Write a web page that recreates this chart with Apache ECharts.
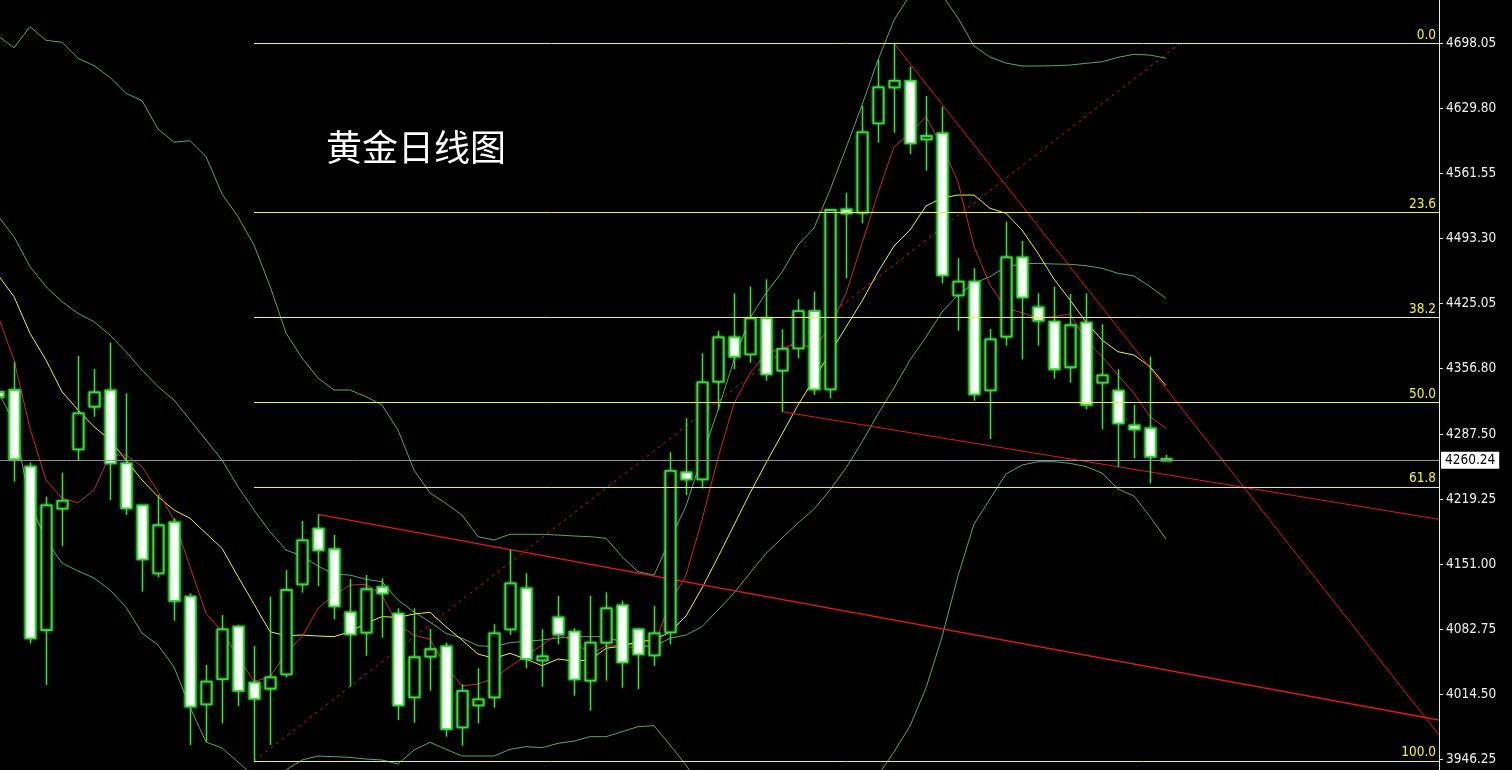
<!DOCTYPE html>
<html><head><meta charset="utf-8">
<script src="https://cdn.jsdelivr.net/npm/echarts@6/dist/echarts.min.js"></script>
<style>html,body{margin:0;padding:0;background:#000;}#c{width:1512px;height:770px;}</style>
</head><body><div id="c"></div>
<script>
// candle index k = 0..73 (k=0 is the partly hidden bar at the left edge)
const opens=[4331.9,4334.0,4253.5,4082.0,4209.4,4271.7,4316.5,4333.7,4257.0,4212.9,4141.5,4195.1,4117.0,4004.0,4030.5,4085.5,4026.7,4020.4,4035.5,4130.0,4188.4,4166.8,4100.6,4079.2,4126.9,4099.1,4011.3,4054.0,4064.9,3979.8,4002.9,4011.3,4082.7,4125.8,4050.2,4095.3,4080.2,4028.8,4068.7,4107.9,4082.7,4055.4,4079.6,4247.6,4240.2,4342.7,4389.3,4371.5,4409.3,4354.3,4377.8,4416.9,4334.7,4523.7,4520.2,4614.0,4651.8,4658.5,4597.2,4603.5,4433.4,4447.7,4333.7,4390.0,4473.3,4420.8,4405.7,4357.9,4404.7,4341.7,4333.3,4296.9,4293.8,4261.5];
const closes=[4326.7,4261.3,4073.3,4212.9,4217.5,4309.5,4331.6,4257.0,4209.8,4156.2,4192.0,4112.5,4001.5,4027.7,4082.7,4018.0,4009.6,4032.3,4124.0,4176.2,4165.7,4106.9,4077.5,4124.8,4120.5,4002.9,4053.4,4061.8,3978.0,4018.0,4009.2,4078.5,4131.0,4051.6,4054.4,4077.5,4030.2,4068.7,4104.8,4048.1,4056.5,4078.5,4249.0,4240.2,4342.1,4389.3,4369.0,4409.3,4350.5,4377.1,4416.9,4334.7,4523.0,4519.5,4604.6,4651.8,4658.5,4593.0,4600.7,4454.4,4447.7,4329.5,4387.2,4473.3,4431.3,4406.8,4355.8,4402.0,4318.3,4349.4,4299.0,4292.7,4264.0,4260.24];
const highs=[4339.0,4363.7,4257.7,4222.0,4247.2,4369.7,4356.1,4383.7,4330.5,4213.3,4223.8,4199.3,4120.5,4045.3,4097.8,4087.3,4065.2,4117.0,4145.0,4196.5,4203.5,4181.8,4135.6,4139.8,4136.3,4104.8,4104.8,4083.1,4068.7,4025.0,4041.8,4088.0,4166.0,4141.5,4082.7,4117.7,4083.8,4117.7,4121.6,4112.8,4083.8,4107.2,4268.6,4304.3,4372.5,4395.9,4435.5,4442.5,4450.2,4397.7,4429.2,4437.2,4523.7,4541.2,4632.2,4680.5,4698.0,4673.5,4642.7,4631.5,4472.3,4461.8,4398.0,4510.7,4490.5,4435.5,4442.5,4434.8,4435.5,4403.0,4355.7,4318.3,4369.0,4265.8];
const lows=[4313.0,4237.7,4068.0,4024.3,4170.2,4260.5,4306.0,4218.5,4202.8,4122.2,4137.3,4091.8,3961.3,3964.7,3984.0,4002.2,3944.5,3961.3,4032.3,4121.2,4128.2,4093.2,4022.5,4055.0,4073.9,3987.5,3984.7,4018.3,3970.0,3960.5,3984.0,4000.4,4076.8,4041.8,4022.5,4067.0,4013.0,3997.3,4028.8,4021.4,4020.1,4044.2,4067.0,4223.8,4230.8,4313.0,4356.0,4362.7,4343.8,4311.2,4367.3,4328.8,4325.3,4451.3,4509.0,4593.7,4604.2,4581.8,4564.3,4446.0,4396.3,4322.8,4282.6,4380.5,4366.2,4380.5,4345.9,4341.7,4313.8,4292.8,4253.5,4262.3,4236.0,4259.8];

const upperBand=[4705.7,4693.4,4715.5,4701.2,4699.1,4682.3,4674.5,4662.3,4645.5,4637.8,4608.0,4594.1,4595.8,4579.0,4539.8,4516.0,4486.2,4443.2,4393.8,4367.6,4346.6,4334.0,4334.0,4327.0,4318.2,4292.0,4250.0,4225.8,4215.0,4202.7,4180.0,4176.5,4182.5,4182.5,4182.5,4181.7,4180.7,4180.0,4178.3,4159.0,4143.2,4139.7,4176.5,4212.2,4263.6,4313.0,4365.5,4409.6,4435.8,4457.9,4486.2,4504.1,4544.0,4588.1,4633.2,4680.5,4722.5,4748.8,4759.3,4748.8,4724.6,4695.2,4683.6,4677.3,4674.2,4674.2,4674.5,4675.2,4677.0,4678.7,4683.3,4686.5,4685.7,4682.3];
const middleBand=[4516.7,4495.0,4463.5,4442.5,4426.7,4414.5,4405.7,4391.7,4374.2,4355.0,4337.5,4323.5,4302.5,4281.5,4260.5,4232.5,4208.0,4185.2,4166.0,4159.7,4149.2,4140.5,4139.7,4135.2,4132.7,4113.5,4100.9,4090.4,4078.5,4073.3,4065.5,4064.5,4068.7,4070.1,4071.5,4073.6,4075.0,4075.0,4075.0,4069.1,4065.9,4064.5,4073.3,4076.7,4085.5,4103.0,4120.8,4141.8,4162.5,4178.6,4194.3,4209.0,4229.0,4252.1,4279.4,4308.8,4336.1,4365.5,4389.6,4415.9,4433.7,4446.0,4453.0,4463.5,4466.3,4467.0,4466.3,4466.0,4464.5,4461.8,4456.5,4453.7,4442.5,4430.3];
const lowerBand=[4332.9,4299.3,4215.3,4176.5,4152.3,4143.9,4136.6,4124.0,4106.1,4078.8,4066.2,4043.1,4001.1,3964.4,3958.1,3943.4,3928.7,3924.5,3935.0,3945.5,3949.7,3949.0,3948.3,3946.5,3945.5,3941.3,3956.0,3964.1,3956.7,3949.7,3949.7,3949.7,3956.7,3959.5,3958.4,3963.0,3965.4,3970.0,3970.0,3975.2,3980.5,3981.5,3961.2,3940.2,3914.0,3893.0,3876.2,3874.1,3889.8,3899.3,3902.4,3914.0,3914.0,3916.1,3925.5,3929.7,3953.9,3981.2,4021.1,4074.6,4138.7,4193.3,4219.5,4245.8,4255.2,4258.7,4258.7,4257.0,4253.5,4246.8,4230.0,4222.7,4201.0,4177.5];
const maRed=[4411.7,4365.5,4293.8,4239.5,4220.3,4215.7,4229.0,4265.7,4265.7,4253.5,4227.2,4197.5,4148.5,4099.5,4080.2,4054.0,4027.7,4033.0,4057.5,4075.0,4104.8,4118.7,4129.2,4130.0,4118.7,4087.2,4076.7,4072.2,4043.5,4023.2,4025.3,4031.3,4043.5,4055.0,4066.2,4077.8,4069.7,4056.8,4065.2,4065.5,4062.8,4066.2,4110.3,4139.7,4197.5,4262.6,4320.0,4351.5,4372.5,4377.8,4383.0,4377.8,4400.1,4435.5,4488.0,4540.5,4589.5,4603.5,4621.0,4589.5,4552.7,4484.5,4444.2,4419.8,4415.2,4409.3,4411.0,4413.8,4386.5,4369.0,4349.7,4330.5,4306.0,4293.8];
const maYellow=[4454.7,4432.0,4393.5,4365.5,4332.2,4313.0,4295.5,4281.5,4260.5,4239.5,4222.0,4208.0,4199.3,4183.5,4167.8,4138.0,4109.3,4080.2,4076.0,4076.7,4075.7,4075.0,4080.2,4089.0,4096.0,4095.3,4098.8,4100.6,4085.5,4071.5,4056.8,4052.3,4057.5,4051.5,4044.5,4051.5,4049.4,4050.5,4062.8,4065.2,4069.7,4071.5,4079.9,4096.7,4126.1,4158.6,4192.2,4225.8,4257.3,4287.8,4318.2,4345.5,4372.8,4400.1,4427.4,4457.9,4485.2,4502.0,4527.2,4535.6,4538.7,4538.7,4524.8,4519.5,4502.0,4477.5,4450.5,4428.5,4405.4,4386.5,4374.2,4370.7,4358.5,4338.5];

const priceTicks=[4698.05,4629.80,4561.55,4493.30,4425.05,4356.80,4287.50,4219.25,4151.00,4082.75,4014.50,3946.25];
const lastPrice=4260.24;
const fibLow=3944.5, fibHigh=4698.0, fibStartIndex=16;
const fibLevels=[0,23.6,38.2,50,61.8,100];
const fibLabels=['0.0','23.6','38.2','50.0','61.8','100.0'];
const trendSteep=[[56,4698.0],[90.0625,3971.8]];
const channelUpper=[[20,4203.5],[90.0625,3987.5]];
const channelLower=[[49,4311.2],[90.0625,4198.2]];
const fibDiagonal=[[16,3944.5],[73.875,4698.0]];
const titleText='黄金日线图';

const X_MIN=0.125, X_MAX=90.0625, Y_MIN=3935.0, Y_MAX=4743.5;
const GREEN='#3fd33f', BAND='#55a575', FIB='#f2f23a', TREND='#dd1a1a';
const AXFONT='"DejaVu Sans Condensed", "DejaVu Sans", Verdana, sans-serif';

const candleData=opens.map((o,k)=>[k,o,closes[k],lows[k],highs[k]]);
const toXY=a=>a.map((v,k)=>[k,v]);

function renderCandle(params, api){
  const k=api.value(0), o=api.value(1), c=api.value(2), l=api.value(3), h=api.value(4);
  const pO=api.coord([k,o]), pC=api.coord([k,c]), pL=api.coord([k,l]), pH=api.coord([k,h]);
  const w=api.size([1,0])[0]*0.64;
  const x=Math.round(pO[0]);
  const top=Math.min(pO[1],pC[1]), bot=Math.max(pO[1],pC[1]);
  const bear=c<o;
  return {type:'group', children:[
    {type:'line', shape:{x1:x+0.5,y1:pH[1],x2:x+0.5,y2:pL[1]}, style:{stroke:GREEN, lineWidth:1.3, shadowBlur:2, shadowColor:'rgba(120,255,120,0.5)'}},
    {type:'rect', shape:{x:x+0.5-w/2, y:top, width:w, height:Math.max(bot-top,1.5)},
     style:{fill: bear?'#ffffff':'#000000', stroke:GREEN, lineWidth:1.8, shadowBlur:3, shadowColor:'rgba(120,255,120,0.55)'}}
  ]};
}

const fibMarks=fibLevels.map((lv,i)=>{
  const v=fibHigh-(fibHigh-fibLow)*lv/100;
  return [{coord:[fibStartIndex,v], name:fibLabels[i]},{coord:[X_MAX,v]}];
});

const lineSeries=(name,data,color,extra)=>Object.assign({
  name, type:'line', data, symbol:'none', silent:true, clip:true,
  lineStyle:{color, width:1}, z:3
}, extra||{});

const chart=echarts.init(document.getElementById('c'),null,{renderer:'canvas'});
chart.setOption({
  backgroundColor:'#000000',
  animation:false,
  title:{text:titleText,left:321,top:124,textStyle:{color:'#ffffff',fontSize:36,fontWeight:'normal',fontFamily:'"Noto Sans CJK SC", sans-serif'}},
  grid:{left:0,right:73,top:0,bottom:0},
  xAxis:{type:'value',min:X_MIN,max:X_MAX,show:false},
  yAxis:{type:'value',position:'right',min:Y_MIN,max:Y_MAX,
    axisLine:{show:true,lineStyle:{color:'#e8e8e8',width:1}},
    axisTick:{show:true,length:4,customValues:priceTicks,lineStyle:{color:'#e8e8e8'}},
    axisLabel:{show:true,customValues:priceTicks,margin:7,color:'#f0f0f0',fontSize:13.5,fontFamily:AXFONT,
      formatter:v=>Number(v).toFixed(2)},
    splitLine:{show:false}},
  series:[
    lineSeries('fib',fibDiagonal,'#c82020',{lineStyle:{color:'#c82020',width:1,type:[3,4]},z:2,
      markLine:{silent:true,symbol:['none','none'],lineStyle:{color:FIB,width:1,type:'solid'},
        label:{show:true,position:'insideEndTop',formatter:'{b}',color:FIB,fontSize:13.5,distance:[3,1],fontFamily:AXFONT},
        data:fibMarks}}),
    lineSeries('upper',toXY(upperBand),BAND),
    lineSeries('middle',toXY(middleBand),BAND),
    lineSeries('lower',toXY(lowerBand),BAND),
    lineSeries('maYellow',toXY(maYellow),'#eeee44'),
    lineSeries('maRed',toXY(maRed),'#c8283c'),
    lineSeries('trendSteep',trendSteep,TREND),
    lineSeries('channelUpper',channelUpper,TREND,{lineStyle:{color:TREND,width:1.3}}),
    lineSeries('channelLower',channelLower,TREND),
    {name:'candles',type:'custom',renderItem:renderCandle,data:candleData,clip:true,z:4,silent:true,
      encode:{x:0,y:[1,2,3,4]},
      markLine:{silent:true,symbol:['none','none'],lineStyle:{color:'#8c8c9a',width:1,type:'solid'},
        label:{show:true,position:'end',formatter:lastPrice.toFixed(2),color:'#000',backgroundColor:'#ffffff',
          padding:[2,4,1,4],distance:2,fontSize:13.5,fontFamily:AXFONT},
        data:[{yAxis:lastPrice}]}}
  ]
});
</script></body></html>
